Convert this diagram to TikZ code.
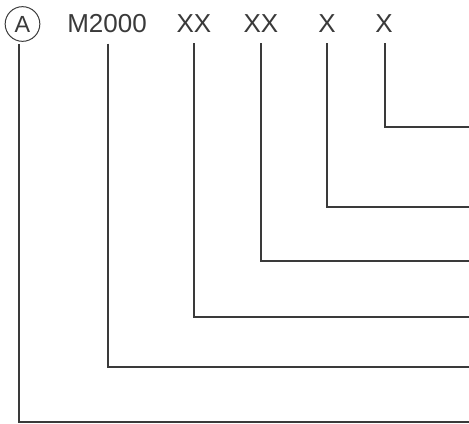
\documentclass[tikz,border=0pt]{standalone}
\usepackage{fontspec}
\setmainfont{Liberation Sans}
\usepackage{tikz}
\usepackage{xcolor}
\definecolor{inkgray}{HTML}{3A3A3A}

\begin{document}
\begin{tikzpicture}[
        x=0.75pt, y=-0.75pt,
        code/.style={inner sep=0pt, anchor=base, text=inkgray, font=\fontsize{19.5}{22}\selectfont},
        badge/.style={circle, draw=inkgray, line width=0.75pt, minimum size=26pt, inner sep=0pt, text=inkgray, font=\fontsize{17.5}{20}\selectfont},
        lead/.style={draw=inkgray, line width=1.7pt}
    ]
        \useasboundingbox (0,0) rectangle (469,424);

        % Circled letter
        \node[badge] (badge) at (22.5,24) {A};

        % Code fields
        \node[code] (series) at (107,33) {M2000};
        \node[code] (fieldA) at (194,33) {XX};
        \node[code] (fieldB) at (261,33) {XX};
        \node[code] (fieldC) at (327,33) {X};
        \node[code] (fieldD) at (384,33) {X};

        % Right-hand ends
        \coordinate (endBadge) at (469,422);
        \coordinate (endSeries) at (469,367);
        \coordinate (endA) at (469,317);
        \coordinate (endB) at (469,261);
        \coordinate (endC) at (469,207);
        \coordinate (endD) at (469,127);

        % Leader lines
        \draw[lead] (badge.south) ++(-3.5,2) |- (endBadge);
        \draw[lead] (series.south) ++(1,10) |- (endSeries);
        \draw[lead] (fieldA.south) ++(0,10) |- (endA);
        \draw[lead] (fieldB.south) ++(0,10) |- (endB);
        \draw[lead] (fieldC.south) ++(0,10) |- (endC);
        \draw[lead] (fieldD.south) ++(1,10) |- (endD);
    \end{tikzpicture}
\end{document}
